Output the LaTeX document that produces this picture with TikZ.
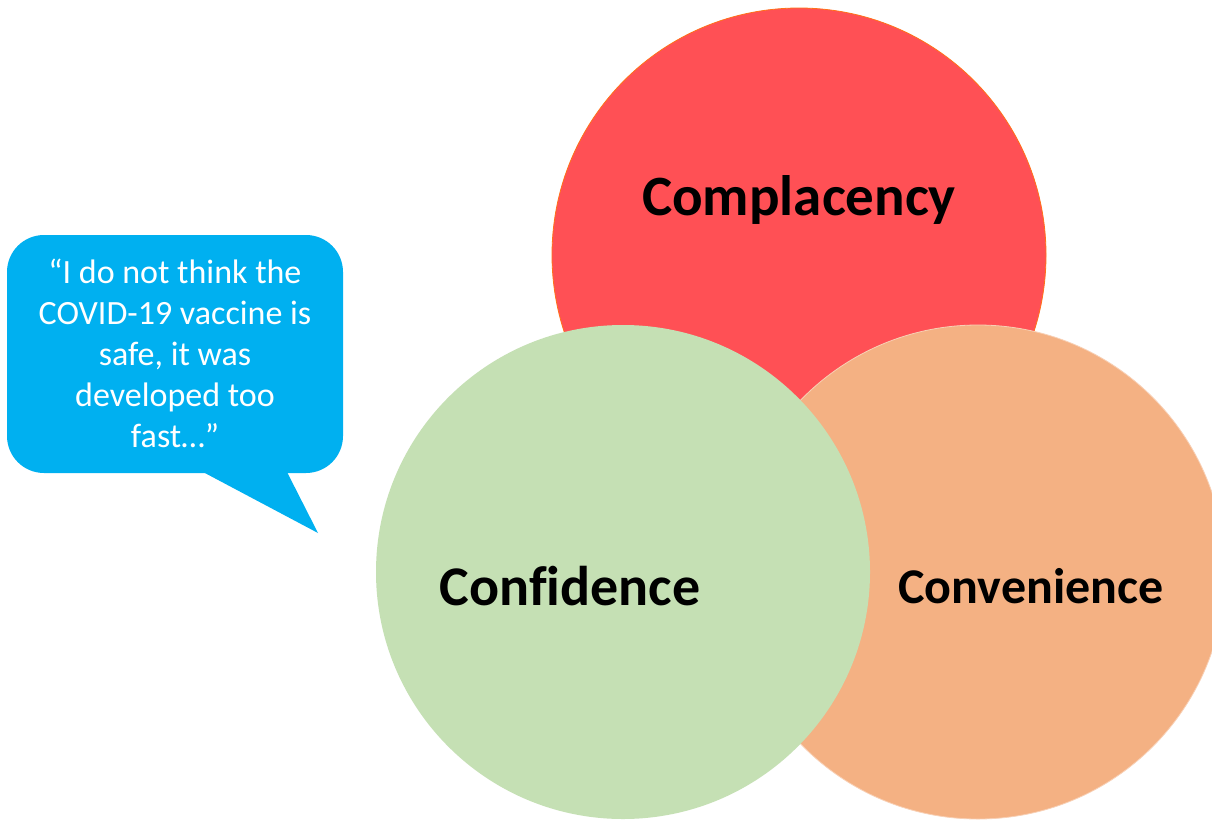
\documentclass[tikz,border=0pt]{standalone}
\usepackage{fontspec}
\setmainfont[Ligatures=NoCommon]{Carlito}
\usetikzlibrary{calc}
\definecolor{complred}{RGB}{255,80,85}
\definecolor{confgreen}{RGB}{197,224,180}
\definecolor{convorange}{RGB}{244,177,131}
\definecolor{quoteblue}{RGB}{0,176,240}
\tikzset{
	ring/.style={circle, inner sep=0pt, minimum size=494pt},
	label3c/.style={anchor=base, font=\bfseries\fontsize{#1}{#1}\selectfont, text=black}
}

\begin{document}
\begin{tikzpicture}[x=1pt, y=-1pt]
			%%%%% START %%%%%
			
			\clip (0, 0) rectangle (1212, 819);
			\fill[white] (0, 0) rectangle (1212, 819);
			
			\node[ring, fill=complred, draw=orange!70!complred, line width=0.8pt] (compl) at (799, 255) {};
			\node[ring, fill=convorange, draw=convorange!60!white, line width=0.8pt] (conv) at (978, 572) {};
			\node[ring, fill=confgreen] (conf) at (623, 572) {};
			
			\node[label3c=57] (compltext) at (799, 215) {Complacency};
			\node[label3c=56] (conftext) at (570, 605) {Confidence};
			\node[label3c=50] (convtext) at (1031, 603) {Convenience};
			
			\fill[quoteblue, rounded corners=37pt] (7, 235) rectangle (343, 473);
			\fill[quoteblue] (203, 472) -- (287, 472) -- (318, 533) -- cycle;
			\node[align=center, text=white, font=\fontsize{34}{41}\selectfont] (quote) at (175, 353)
				{“I do not think the\\COVID-19 vaccine is\\safe, it was\\developed too\\fast…”};
			
			%%%%% END %%%%%
\end{tikzpicture}
\end{document}
